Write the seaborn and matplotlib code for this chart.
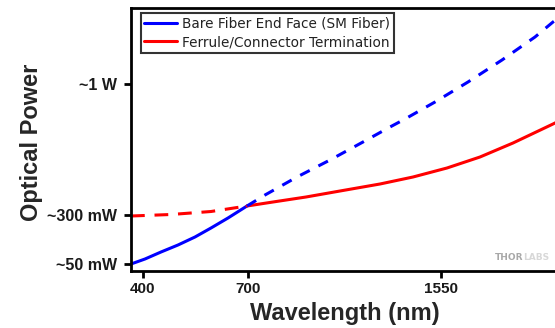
import matplotlib
matplotlib.use("Agg")
import matplotlib.pyplot as plt
import seaborn as sns

# Schematic axis units: x = horizontal position, y = relative power level
xtick_pos = [12, 117, 310]
xtick_labels = ["400", "700", "1550"]
ytick_pos = [7, 56, 187]
ytick_labels = ["~50 mW", "~300 mW", "~1 W"]

bare_solid_x = [0, 14, 30, 47, 64, 80, 97, 116]
bare_solid_y = [7, 12, 19, 26, 34, 43, 53, 65]
bare_dash_x = [116, 134, 166, 199, 232, 259, 274, 304, 337, 371, 404, 422, 440]
bare_dash_y = [65, 76, 94, 111, 129, 144, 152, 169, 189, 211, 234, 249, 262]

ferr_dash_x = [0, 40, 80, 116]
ferr_dash_y = [55, 56.5, 59.5, 65]
ferr_solid_x = [116, 142, 175, 209, 249, 282, 316, 349, 382, 422, 440]
ferr_solid_y = [65, 69, 74, 80, 87, 94, 103, 114, 128, 147, 156]

sns.set_style("white")
plt.rcParams["font.family"] = ["Liberation Sans", "DejaVu Sans"]

fig = plt.figure(figsize=(5.55, 3.28), dpi=100)
ax = fig.add_axes([131 / 555, 57 / 328, 434 / 555, 263 / 328])

blue = "#0000ff"
red = "#ff0000"
lw = 2.2
sns.lineplot(x=bare_solid_x, y=bare_solid_y, ax=ax, color=blue, lw=lw, sort=False,
             label="Bare Fiber End Face (SM Fiber)")
sns.lineplot(x=ferr_solid_x, y=ferr_solid_y, ax=ax, color=red, lw=lw, sort=False,
             label="Ferrule/Connector Termination")
sns.lineplot(x=bare_dash_x, y=bare_dash_y, ax=ax, color=blue, lw=lw, sort=False,
             legend=False)
ax.lines[-1].set_linestyle((0, (3.5, 3.2)))
sns.lineplot(x=ferr_dash_x, y=ferr_dash_y, ax=ax, color=red, lw=lw, sort=False,
             legend=False)
ax.lines[-1].set_linestyle((0, (4.5, 3.2)))

ax.set_xlim(0, 434)
ax.set_ylim(0, 263)
ax.set_xticks(xtick_pos)
ax.set_xticklabels(xtick_labels, fontsize=11, fontweight="bold", color="#1a1a1a")
ax.set_yticks(ytick_pos)
ax.set_yticklabels(ytick_labels, fontsize=11.5, fontweight="bold", color="#1a1a1a")
ax.tick_params(axis="both", direction="out", length=5, width=2, color="black",
               bottom=True, left=True)
ax.tick_params(axis="y", pad=5)
ax.tick_params(axis="x", pad=3)
for s in ax.spines.values():
    s.set_linewidth(2.0)
    s.set_color("black")

ax.set_xlabel("Wavelength (nm)", fontsize=17, fontweight="bold")
ax.set_ylabel("Optical Power", fontsize=17, fontweight="bold")
ax.xaxis.set_label_coords((345 - 131) / 434, -(302 - 271) / 263)
ax.yaxis.set_label_coords(-(131 - 43) / 434, (271 - 142) / 263)

leg = ax.legend(loc="upper left", bbox_to_anchor=(0.023, 0.981),
                prop={"family": "DejaVu Sans", "size": 9.8},
                frameon=True, fancybox=False, edgecolor="#333333", framealpha=1,
                handlelength=2.4, handletextpad=0.4, borderpad=0.25,
                labelspacing=0.35, borderaxespad=0)
leg.get_frame().set_linewidth(1.5)
for t in leg.get_texts():
    t.set_color("#222222")

fig.text(523 / 555, 1 - 257 / 328, "THOR", ha="right", va="center",
         fontsize=6.5, fontweight="bold", color="#a8a8a8", family="DejaVu Sans")
fig.text(523 / 555, 1 - 257 / 328, "LABS", ha="left", va="center",
         fontsize=6.5, fontweight="bold", color="#d8d8d8", family="DejaVu Sans")

fig.savefig("out.png", dpi=100)
